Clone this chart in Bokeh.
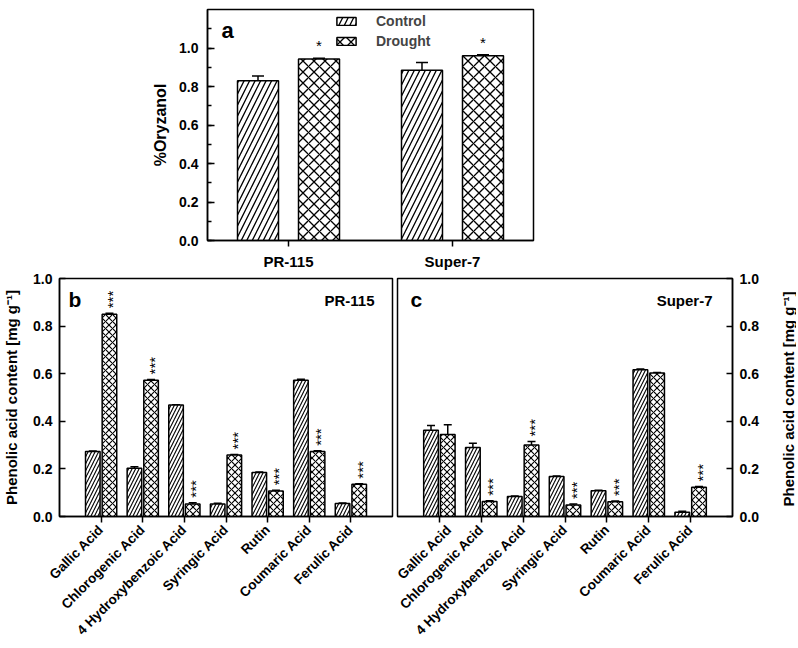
import math
from bokeh.plotting import figure
from bokeh.models import (ColumnDataSource, Whisker, TeeHead, SingleIntervalTicker,
                          FixedTicker, PrintfTickFormatter, Legend, LegendItem, Label, Range1d)
from bokeh.layouts import column, row
from bokeh.transform import dodge
from bokeh.embed import file_html
from bokeh.resources import INLINE
from bokeh.core.properties import value

# ---------------- data ----------------
varieties = ["PR-115", "Super-7"]
oryz_control = [0.83, 0.885]
oryz_control_err = [0.025, 0.04]
oryz_drought = [0.943, 0.96]
oryz_drought_err = [0.004, 0.005]
oryz_sig = ["*", "*"]

compounds = ["Gallic Acid", "Chlorogenic Acid", "4 Hydroxybenzoic Acid", "Syringic Acid",
             "Rutin", "Coumaric Acid", "Ferulic Acid"]
pr_control = [0.273, 0.203, 0.468, 0.052, 0.185, 0.572, 0.055]
pr_control_err = [0.002, 0.006, 0.002, 0.004, 0.002, 0.005, 0.002]
pr_drought = [0.850, 0.572, 0.052, 0.258, 0.107, 0.273, 0.135]
pr_drought_err = [0.004, 0.004, 0.006, 0.003, 0.003, 0.003, 0.003]
pr_sig = ["***", "***", "***", "***", "***", "***", "***"]

s7_control = [0.362, 0.290, 0.084, 0.168, 0.108, 0.617, 0.018]
s7_control_err = [0.020, 0.018, 0.002, 0.002, 0.002, 0.003, 0.004]
s7_drought = [0.345, 0.063, 0.300, 0.048, 0.062, 0.603, 0.123]
s7_drought_err = [0.040, 0.003, 0.015, 0.004, 0.003, 0.002, 0.003]
s7_sig = ["", "***", "***", "***", "***", "", "***"]

FONT = "Liberation Sans"
Y_LABEL = "Phenolic acid content [mg g⁻¹]"


def style_axis(ax, size="14px"):
    ax.axis_line_width = 1.5
    ax.axis_line_color = "black"
    ax.major_tick_line_width = 1.5
    ax.major_tick_line_color = "black"
    ax.minor_tick_line_width = 1.5
    ax.minor_tick_line_color = "black"
    ax.major_label_text_font = FONT
    ax.major_label_text_font_style = "bold"
    ax.major_label_text_font_size = size
    ax.major_label_text_color = "black"
    ax.axis_label_text_font = FONT
    ax.axis_label_text_font_style = "bold"
    ax.axis_label_text_color = "black"


# ---------------- panel a ----------------
src_a = ColumnDataSource(dict(
    idx=list(range(len(varieties))),
    control=oryz_control, drought=oryz_drought,
    c_up=[v + e for v, e in zip(oryz_control, oryz_control_err)],
    d_up=[v + e for v, e in zip(oryz_drought, oryz_drought_err)],
    sig=oryz_sig,
))

A_H = 272
A_FH = 233
pa = figure(width=780, height=A_H, x_range=Range1d(-0.494, 1.494), y_range=Range1d(0, 1.2),
            output_backend="svg", toolbar_location=None,
            min_border_left=207, min_border_right=247, min_border_top=9, min_border_bottom=30)
pa.outline_line_color = "black"
pa.outline_line_width = 1.5
pa.outline_line_alpha = 1
pa.grid.visible = False

rc = pa.vbar(x=dodge("idx", -0.186, range=pa.x_range), top="control", width=0.25, source=src_a,
             fill_color="white", line_color="black", line_width=1.5,
             hatch_pattern="/", hatch_color="black", hatch_scale=11, hatch_weight=1.3)
rd = pa.vbar(x=dodge("idx", 0.186, range=pa.x_range), top="drought", width=0.25, source=src_a,
             fill_color="white", line_color="black", line_width=1.5,
             hatch_pattern="x", hatch_color="black", hatch_scale=11, hatch_weight=1.3)
pa.add_layout(Whisker(source=src_a, base=dodge("idx", -0.186, range=pa.x_range), lower="control",
                      upper="c_up", dimension="height", line_color="black", line_width=1.5,
                      lower_head=None, upper_head=TeeHead(size=12, line_width=1.5, line_color="black")))
pa.add_layout(Whisker(source=src_a, base=dodge("idx", 0.186, range=pa.x_range), lower="drought",
                      upper="d_up", dimension="height", line_color="black", line_width=1.5,
                      lower_head=None, upper_head=TeeHead(size=12, line_width=1.5, line_color="black")))
pa.text(x=dodge("idx", 0.186, range=pa.x_range), y="d_up", text="sig", source=src_a,
        text_align="center", text_baseline="bottom", y_offset=-4,
        text_font=value(FONT), text_font_size="15px", text_color="black")

pa.xaxis.ticker = FixedTicker(ticks=list(range(len(varieties))))
pa.xaxis.major_label_overrides = {i: v for i, v in enumerate(varieties)}
pa.yaxis.ticker = SingleIntervalTicker(interval=0.2, num_minor_ticks=2)
pa.yaxis.formatter = PrintfTickFormatter(format="%.1f")
pa.yaxis.axis_label = "%Oryzanol"
for ax in pa.xaxis + pa.yaxis:
    style_axis(ax, "14px")
pa.xaxis.major_label_text_font_size = "15px"
pa.xaxis.major_tick_in = 0
pa.xaxis.major_tick_out = 6
pa.xaxis.minor_tick_line_color = None
pa.xaxis.major_label_standoff = 6
pa.yaxis.major_tick_in = 7
pa.yaxis.major_tick_out = 0
pa.yaxis.minor_tick_in = 4
pa.yaxis.minor_tick_out = 0
pa.yaxis.major_label_standoff = 9
pa.yaxis.axis_label_text_font_size = "16px"
pa.yaxis.axis_label_standoff = 7

leg = Legend(items=[LegendItem(label="Control", renderers=[rc]),
                    LegendItem(label="Drought", renderers=[rd])],
             location=(127, 190), glyph_width=24, glyph_height=10, label_height=18,
             spacing=2, padding=0, margin=0, label_standoff=18,
             border_line_color=None, background_fill_alpha=0,
             label_text_font=FONT, label_text_font_style="bold", label_text_font_size="14px")
pa.add_layout(leg)
pa.add_layout(Label(x=14, y=A_FH - 23, x_units="screen", y_units="screen", text="a",
                    text_font=FONT, text_font_style="bold", text_font_size="22px",
                    text_baseline="alphabetic", text_color="black"))


# ---------------- panels b and c ----------------
FH = 241
FW = 335
ROW_H = 374
B_TOP = 6
B_BOTTOM = 127


def panel(control, control_err, drought, drought_err, sig, width, bl, br, yloc, letter, title):
    src = ColumnDataSource(dict(
        idx=list(range(len(compounds))),
        control=control, drought=drought,
        c_up=[v + e for v, e in zip(control, control_err)],
        d_up=[v + e for v, e in zip(drought, drought_err)],
        sig=sig,
    ))
    p = figure(width=width, height=ROW_H, x_range=Range1d(-1, 7), y_range=Range1d(0, 1.0),
               output_backend="svg", toolbar_location=None, y_axis_location=yloc,
               min_border_left=bl, min_border_right=br, min_border_top=B_TOP,
               min_border_bottom=B_BOTTOM)
    p.outline_line_color = "black"
    p.outline_line_width = 1.5
    p.outline_line_alpha = 1
    p.grid.visible = False
    p.vbar(x=dodge("idx", -0.2, range=p.x_range), top="control", width=0.35, source=src,
           fill_color="white", line_color="black", line_width=1.5,
           hatch_pattern="/", hatch_color="black", hatch_scale=7, hatch_weight=1.1)
    p.vbar(x=dodge("idx", 0.2, range=p.x_range), top="drought", width=0.35, source=src,
           fill_color="white", line_color="black", line_width=1.5,
           hatch_pattern="x", hatch_color="black", hatch_scale=7, hatch_weight=1.1)
    p.add_layout(Whisker(source=src, base=dodge("idx", -0.2, range=p.x_range), lower="control",
                         upper="c_up", dimension="height", line_color="black", line_width=1.5,
                         lower_head=None, upper_head=TeeHead(size=8, line_width=1.5, line_color="black")))
    p.add_layout(Whisker(source=src, base=dodge("idx", 0.2, range=p.x_range), lower="drought",
                         upper="d_up", dimension="height", line_color="black", line_width=1.5,
                         lower_head=None, upper_head=TeeHead(size=8, line_width=1.5, line_color="black")))
    p.text(x=dodge("idx", 0.2, range=p.x_range), y="d_up", text="sig", source=src,
           angle=math.pi / 2, text_align="left", text_baseline="middle", x_offset=3, y_offset=-5,
           text_font=value(FONT), text_font_size="15px", text_color="black")

    p.xaxis.ticker = FixedTicker(ticks=list(range(len(compounds))))
    p.xaxis.major_label_overrides = {i: c for i, c in enumerate(compounds)}
    p.xaxis.major_label_orientation = math.pi / 4
    p.yaxis.ticker = SingleIntervalTicker(interval=0.2, num_minor_ticks=0)
    p.yaxis.formatter = PrintfTickFormatter(format="%.1f")
    for ax in p.xaxis + p.yaxis:
        style_axis(ax, "14px")
    p.xaxis.major_label_text_font_size = "13.5px"
    p.xaxis.major_tick_in = 0
    p.xaxis.major_tick_out = 6
    p.xaxis.minor_tick_line_color = None
    p.xaxis.major_label_standoff = 5
    p.yaxis.major_tick_in = 6
    p.yaxis.major_tick_out = 0
    p.yaxis.minor_tick_line_color = None
    p.yaxis.major_label_standoff = 7
    if yloc == "left":
        p.yaxis.axis_label = Y_LABEL
        p.yaxis.axis_label_text_font_size = "15px"
        p.yaxis.axis_label_standoff = 10

    p.add_layout(Label(x=9 if letter == "b" else 13, y=FH - 24, x_units="screen", y_units="screen",
                       text=letter, text_font=FONT, text_font_style="bold", text_font_size="21px",
                       text_baseline="alphabetic", text_color="black"))
    p.add_layout(Label(x=FW - 20, y=FH - 25, x_units="screen", y_units="screen", text=title,
                       text_align="right", text_baseline="alphabetic", text_font=FONT,
                       text_font_style="bold", text_font_size="15px", text_color="black"))
    return p


pb = panel(pr_control, pr_control_err, pr_drought, pr_drought_err, pr_sig,
           394, 57, 2, "left", "b", varieties[0])
pc = panel(s7_control, s7_control_err, s7_drought, s7_drought_err, s7_sig,
           386, 3, 48, "right", "c", varieties[1])

# right-hand axis title of panel c (reads bottom-to-top, like the left one).
# The strip spans the full page height and shares panel c's vertical scale,
# so 0.5 is the middle of panel c's frame.
TOTAL_H = A_H + ROW_H
pl = figure(width=16, height=TOTAL_H, x_range=Range1d(0, 1),
            y_range=Range1d(-B_BOTTOM / FH, 1 + (A_H + B_TOP) / FH),
            output_backend="svg", toolbar_location=None,
            x_axis_location=None, y_axis_location=None, min_border=0)
pl.outline_line_color = None
pl.grid.visible = False
pl.text(x=[0.5], y=[0.5], text=[Y_LABEL], angle=math.pi / 2,
        text_align="center", text_baseline="middle",
        text_font=value(FONT), text_font_style="bold", text_font_size="15px",
        text_color="black")

left = column(pa, row(pb, pc, spacing=0), spacing=0)
layout = row(left, pl, spacing=0)
open("out.html", "w").write(file_html(layout, INLINE))
